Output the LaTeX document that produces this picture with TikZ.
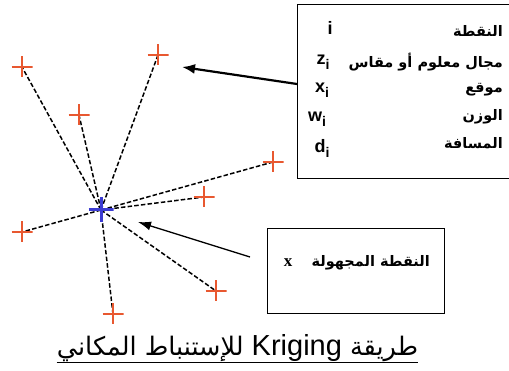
\documentclass[tikz,border=0pt]{standalone}
\usepackage{fontspec}
\setmainfont{Liberation Sans}
\newfontfamily\arabicfont[Script=Arabic]{DejaVu Sans}
\newfontfamily\serifx{Liberation Serif}
\TeXXeTstate=1
\usetikzlibrary{arrows.meta}
\definecolor{crossred}{RGB}{232,88,48}
\definecolor{crossblue}{RGB}{60,60,210}
\tikzset{
  redplus/.style={inner sep=0pt, minimum size=21pt,
    path picture={\draw[line width=2.8pt, crossred]
      (path picture bounding box.north) -- (path picture bounding box.south)
      (path picture bounding box.west) -- (path picture bounding box.east);}},
  blueplus/.style={inner sep=0pt, minimum size=25pt,
    path picture={\draw[line width=3pt, crossblue]
      (path picture bounding box.north) -- (path picture bounding box.south)
      (path picture bounding box.west) -- (path picture bounding box.east);}},
  ray/.style={line width=1.5pt, dash pattern=on 4.5pt off 2.2pt},
  framebox/.style={draw, line width=1pt, inner sep=0pt},
  artxt/.style={font=\arabicfont\bfseries\fontsize{14.5}{14.5}\selectfont, inner sep=0pt, anchor=east},
  lat/.style={font=\bfseries\fontsize{18}{18}\selectfont, inner sep=0pt},
}
\newcommand{\subi}{\raisebox{-5pt}{\fontsize{14}{14}\selectfont i}}
\begin{document}
\begin{tikzpicture}[x=1pt,y=-1pt]
\useasboundingbox (0,0) rectangle (509,371);
% points
\coordinate (c) at (101,210);
\coordinate (p1) at (22,67);
\coordinate (p2) at (158,55);
\coordinate (p3) at (79,115);
\coordinate (p4) at (273,162);
\coordinate (p5) at (204,197);
\coordinate (p6) at (22,232);
\coordinate (p7) at (216,291);
\coordinate (p8) at (113,314);
% dashed rays
\foreach \p in {p1,p2,p3,p4,p5,p6,p7,p8}
  \draw[ray] (c) -- (\p);
% crosses
\foreach \p in {p1,p2,p3,p4,p5,p6,p7,p8}
  \node[redplus] (m\p) at (\p) {};
\node[blueplus] (mc) at (c) {};
% legend box
\node[framebox, anchor=north west, minimum width=216pt, minimum height=174pt] (legend) at (297,4) {};
\node[lat] (li) at (330,28) {i};
\node[lat] (lz) at (323,62) {z\subi};
\node[lat] (lx) at (322,90) {x\subi};
\node[lat] (lw) at (317,119) {w\subi};
\node[lat] (ld) at (322,148) {d\subi};
\node[artxt] (a1) at (503,31) {\beginR النقطة\endR};
\node[artxt] (a2) at (503,62) {\beginR مجال معلوم أو مقاس\endR};
\node[artxt] (a3) at (503,90) {\beginR موقع\endR};
\node[artxt] (a4) at (503,117) {\beginR الوزن\endR};
\node[artxt] (a5) at (503,143) {\beginR المسافة\endR};
% unknown point box
\node[framebox, anchor=north west, minimum width=177pt, minimum height=85pt] (ubox) at (267,228) {};
\node[font=\serifx\bfseries\fontsize{17}{17}\selectfont, inner sep=0pt] (ux) at (288,263) {x};
\node[artxt] (ua) at (430,263) {\beginR النقطة المجهولة\endR};
% arrows
\coordinate (t1) at (182,67);
\coordinate (s1) at (legend.west |- 0,84);
\draw[line width=2.2pt, -{Latex[length=13pt,width=10pt]}] (s1) -- (t1);
\coordinate (t2) at (138,222);
\coordinate (s2) at (250,257);
\draw[line width=1.3pt, -{Latex[length=13pt,width=9pt]}] (s2) -- (t2);
% caption
\node[font=\arabicfont\fontsize{25.5}{25.5}\selectfont, inner sep=0pt, anchor=base] (cap) at (237.5,356)
  {\beginR طريقة \beginL{\rmfamily\fontsize{29}{29}\selectfont Kriging}\endL{} للإستنباط المكاني\endR};
\draw[line width=1.8pt] ([yshift=-6.5pt]cap.base west) -- ([yshift=-6.5pt]cap.base east);
\end{tikzpicture}
\end{document}
